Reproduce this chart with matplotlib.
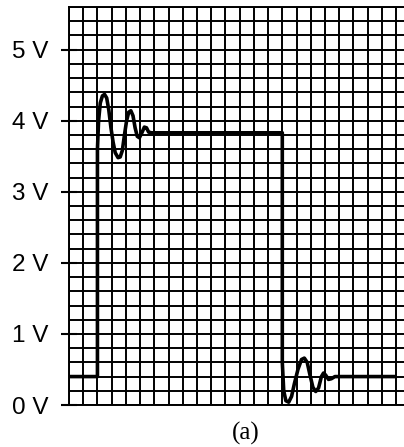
import numpy as np
import matplotlib.pyplot as plt

# forma de onda (x em divisões da grade, y em volts)
t_pts = [0.0, 2.0, 2.0, 2.08, 2.2, 2.35, 2.5, 2.65, 2.8, 2.95, 3.1, 3.25, 3.45, 3.6,
         3.75, 3.9, 4.05, 4.2, 4.35, 4.5, 4.65, 4.8, 4.95, 5.1, 5.3, 5.45, 5.6, 5.8,
         15.0, 15.0, 15.1, 15.25, 15.45, 15.65, 15.85, 16.1, 16.35, 16.55, 16.75,
         16.95, 17.15, 17.35, 17.55, 17.75, 17.9, 18.05, 18.25, 18.45, 18.7, 22.9]
v_pts = [0.4, 0.4, 3.6, 4.0, 4.25, 4.35, 4.37, 4.32, 4.15, 3.9, 3.7, 3.55, 3.48, 3.49,
         3.58, 3.8, 4.0, 4.12, 4.14, 4.07, 3.9, 3.78, 3.76, 3.82, 3.91, 3.9, 3.84, 3.83,
         3.83, 0.6, 0.2, 0.06, 0.04, 0.12, 0.3, 0.5, 0.64, 0.66, 0.6,
         0.42, 0.25, 0.19, 0.24, 0.4, 0.45, 0.42, 0.36, 0.37, 0.40, 0.40]

y_ticks = [0, 1, 2, 3, 4, 5]
y_labels = ['0 V', '1 V', '2 V', '3 V', '4 V', '5 V']

fig = plt.figure(figsize=(4.04, 4.47), dpi=100)
ax = fig.add_axes([69/404, 1 - 405/447, (404 - 69)/404, (405 - 7)/447])

ax.set_xlim(0, (404 - 69) / 14.22)
ax.set_ylim(0, 5.6)

# grade
ax.set_xticks(np.arange(0, 24))
ax.set_yticks(np.arange(0, 5.61, 0.2), minor=True)
ax.set_yticks(y_ticks)
ax.set_yticklabels(y_labels, fontsize=17.5, family='Liberation Sans')
ax.tick_params(axis='x', length=0, labelbottom=False)
ax.tick_params(axis='y', which='minor', length=0)
ax.tick_params(axis='y', which='major', direction='inout', length=11, width=1.5, pad=9)
ax.grid(True, which='both', color='black', linewidth=1.4)
ax.set_axisbelow(True)
for s in ['left', 'bottom', 'top']:
    ax.spines[s].set_linewidth(1.4)
ax.spines['right'].set_visible(False)

ax.plot(t_pts, v_pts, color='black', linewidth=2.6, solid_joinstyle='round', zorder=3)

fig.text(246/404, 1 - 433/447, '(a)', family='Liberation Serif', fontsize=18,
         ha='center', va='center')

fig.savefig('out.png', dpi=100)
